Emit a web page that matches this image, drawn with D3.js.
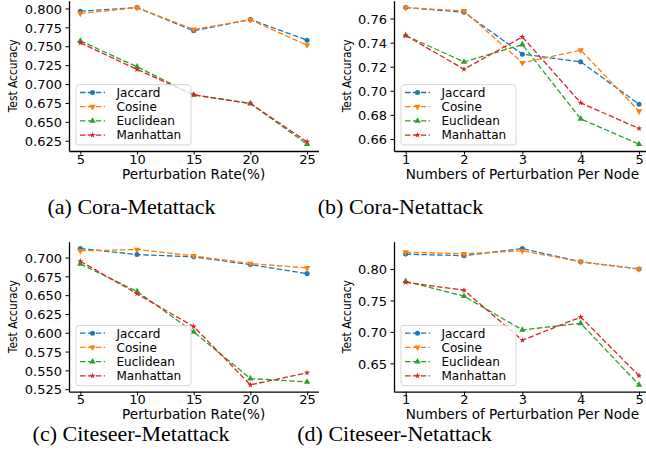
<!DOCTYPE html>
<html lang="en">
<head>
    <meta charset="UTF-8">
    <title>Similarity measures under attack</title>
    <script src="https://cdn.jsdelivr.net/npm/d3@7"></script>
    <style>
        body { margin: 0; background: #fff; }
        svg { display: block; }
        .tick text { font-family: "DejaVu Sans", sans-serif; font-size: 13px; fill: #000; }
        .axis path, .axis line { stroke: #000; }
        .axis path { stroke-width: 1.3; }
        .label { font-family: "DejaVu Sans", sans-serif; fill: #000; }
        .caption { font-family: "Liberation Serif", serif; font-size: 22px; fill: #000; }
        .legend text { font-family: "DejaVu Sans", sans-serif; font-size: 12px; fill: #000; }
    </style>
</head>
<body>
<div id="chart"></div>
<script>
    const w = 646
    const h = 463

    // x values
    const rateX = [5, 10, 15, 20, 25]
    const nodeX = [1, 2, 3, 4, 5]
    const methods = ["Jaccard", "Cosine", "Euclidean", "Manhattan"]

    // (a) Cora - Metattack
    const coraMetaJaccard   = [0.7964, 0.8012, 0.7704, 0.7855, 0.7580]
    const coraMetaCosine    = [0.7934, 0.8010, 0.7722, 0.7850, 0.7515]
    const coraMetaEuclidean = [0.7571, 0.7228, 0.6857, 0.6743, 0.6205]
    const coraMetaManhattan = [0.7545, 0.7193, 0.6857, 0.6743, 0.6236]

    // (b) Cora - Netattack
    const coraNetJaccard   = [0.7691, 0.7652, 0.7304, 0.7240, 0.6889]
    const coraNetCosine    = [0.7690, 0.7663, 0.7232, 0.7337, 0.6831]
    const coraNetEuclidean = [0.7459, 0.7240, 0.7384, 0.6767, 0.6557]
    const coraNetManhattan = [0.7459, 0.7179, 0.7447, 0.6900, 0.6687]

    // (c) Citeseer - Metattack
    const citeMetaJaccard   = [0.7120, 0.7040, 0.7009, 0.6906, 0.6786]
    const citeMetaCosine    = [0.7089, 0.7107, 0.7022, 0.6920, 0.6862]
    const citeMetaEuclidean = [0.6915, 0.6550, 0.6010, 0.5391, 0.5347]
    const citeMetaManhattan = [0.6951, 0.6519, 0.6082, 0.5307, 0.5467]

    // (d) Citeseer - Netattack
    const citeNetJaccard   = [0.8237, 0.8211, 0.8326, 0.8116, 0.8000]
    const citeNetCosine    = [0.8268, 0.8242, 0.8290, 0.8116, 0.8000]
    const citeNetEuclidean = [0.7805, 0.7568, 0.7032, 0.7137, 0.6158]
    const citeNetManhattan = [0.7789, 0.7663, 0.6868, 0.7237, 0.6305]

    // tick labels
    const yTicksCoraMeta = [0.625, 0.650, 0.675, 0.700, 0.725, 0.750, 0.775, 0.800]
    const yTicksCoraNet  = [0.66, 0.68, 0.70, 0.72, 0.74, 0.76]
    const yTicksCiteMeta = [0.525, 0.550, 0.575, 0.600, 0.625, 0.650, 0.675, 0.700]
    const yTicksCiteNet  = [0.65, 0.70, 0.75, 0.80]

    const captions = ["(a) Cora-Metattack", "(b) Cora-Netattack", "(c) Citeseer-Metattack", "(d) Citeseer-Netattack"]
    const xLabels = ["Perturbation Rate(%)", "Numbers of Perturbation Per Node"]

    const colors = ["#1f77b4", "#ff7f0e", "#2ca02c", "#d62728"]
    const markers = [
        {type: d3.symbolCircle, size: 20, rot: 0},
        {type: d3.symbolTriangle, size: 18, rot: 180},
        {type: d3.symbolTriangle, size: 18, rot: 0},
        {type: d3.symbolStar, size: 12, rot: 0}
    ]

    const panels = [
        {x: rateX, series: [coraMetaJaccard, coraMetaCosine, coraMetaEuclidean, coraMetaManhattan],
         yTicks: yTicksCoraMeta, fmt: ".3f", xl: xLabels[0], cap: captions[0],
         xr: [69, 318.4], yr: [151, 0.7], capX: 131.5, capY: 214},
        {x: nodeX, series: [coraNetJaccard, coraNetCosine, coraNetEuclidean, coraNetManhattan],
         yTicks: yTicksCoraNet, fmt: ".2f", xl: xLabels[1], cap: captions[1],
         xr: [394, 650.7], yr: [151, 0.7], capX: 400.5, capY: 214},
        {x: rateX, series: [citeMetaJaccard, citeMetaCosine, citeMetaEuclidean, citeMetaManhattan],
         yTicks: yTicksCiteMeta, fmt: ".3f", xl: xLabels[0], cap: captions[2],
         xr: [69, 318.4], yr: [391.7, 241.7], capX: 131, capY: 441},
        {x: nodeX, series: [citeNetJaccard, citeNetCosine, citeNetEuclidean, citeNetManhattan],
         yTicks: yTicksCiteNet, fmt: ".2f", xl: xLabels[1], cap: captions[3],
         xr: [394, 650.7], yr: [391.7, 241.7], capX: 394.5, capY: 441}
    ]

    const svg = d3.select("#chart").append("svg")
                  .attr("width", w)
                  .attr("height", h)

    // matplotlib-like 5% margins
    function padded(ext) {
        const p = (ext[1] - ext[0]) * 0.05
        return [ext[0] - p, ext[1] + p]
    }

    panels.forEach((p, pi) => {
        const xScale = d3.scaleLinear().domain(padded(d3.extent(p.x))).range(p.xr)
        const yScale = d3.scaleLinear()
                         .domain(padded(d3.extent(p.series.flat())))
                         .range(p.yr)

        const g = svg.append("g")

        // lines + markers
        p.series.forEach((vals, si) => {
            const pts = vals.map((v, i) => [p.x[i], v])
            const line = d3.line().x(d => xScale(d[0])).y(d => yScale(d[1]))
            g.append("path")
             .attr("d", line(pts))
             .attr("fill", "none")
             .attr("stroke", colors[si])
             .attr("stroke-width", 1.3)
             .attr("stroke-dasharray", "5.5,2.4")

            const m = markers[si]
            g.selectAll(null)
             .data(pts)
             .enter()
             .append("path")
             .attr("d", d3.symbol().type(m.type).size(m.size))
             .attr("transform", d => `translate(${xScale(d[0])},${yScale(d[1])}) rotate(${m.rot})`)
             .attr("fill", colors[si])
        })

        // axes
        const xAxis = d3.axisBottom(xScale).tickValues(p.x).tickFormat(d3.format("d"))
                        .tickSize(3.5).tickSizeOuter(0).tickPadding(0)
        g.append("g")
         .attr("class", "axis")
         .attr("transform", `translate(0, ${p.yr[0]})`)
         .call(xAxis)

        const yAxis = d3.axisLeft(yScale).tickValues(p.yTicks).tickFormat(d3.format(p.fmt))
                        .tickSize(3.5).tickSizeOuter(0).tickPadding(3.5)
        const ya = g.append("g")
         .attr("class", "axis")
         .attr("transform", `translate(${p.xr[0]}, 0)`)
         .call(yAxis)
        ya.selectAll(".tick text").attr("dy", "0.36em")

        // axis labels
        g.append("text")
         .attr("class", "label")
         .attr("x", (p.xr[0] + p.xr[1]) / 2)
         .attr("y", p.yr[0] + 27.5)
         .attr("text-anchor", "middle")
         .style("font-size", "13.6px")
         .text(p.xl)

        const yMid = (p.yr[0] + p.yr[1]) / 2
        const yLabX = pi % 2 === 0 ? p.xr[0] - 52 : p.xr[0] - 43
        g.append("text")
         .attr("class", "label")
         .attr("transform", `translate(${yLabX}, ${yMid}) rotate(-90)`)
         .attr("text-anchor", "middle")
         .style("font-size", "12px")
         .attr("textLength", 73)
         .attr("lengthAdjust", "spacingAndGlyphs")
         .attr("x", 0)
         .attr("y", 0)
         .text("Test Accuracy")

        // legend
        const lx = p.xr[0] + 7
        const rowH = 14.2
        const lh = rowH * methods.length + 3.5
        const ly = p.yr[0] - 6 - lh
        const leg = g.append("g").attr("class", "legend")
        leg.append("rect")
           .attr("x", lx)
           .attr("y", ly)
           .attr("width", 115)
           .attr("height", lh)
           .attr("rx", 3)
           .attr("fill", "#fff")
           .attr("fill-opacity", 0.8)
           .attr("stroke", "#d5d5d5")
           .attr("stroke-width", 1)

        methods.forEach((name, si) => {
            const cy = ly + 7.8 + si * rowH
            leg.append("line")
               .attr("x1", lx + 4).attr("x2", lx + 29)
               .attr("y1", cy).attr("y2", cy)
               .attr("stroke", colors[si])
               .attr("stroke-width", 1.3)
               .attr("stroke-dasharray", "5.5,2.4")
            const m = markers[si]
            leg.append("path")
               .attr("d", d3.symbol().type(m.type).size(m.size))
               .attr("transform", `translate(${lx + 16.5},${cy}) rotate(${m.rot})`)
               .attr("fill", colors[si])
            leg.append("text")
               .attr("x", lx + 40.5)
               .attr("y", cy)
               .attr("dy", "0.36em")
               .text(name)
        })

        // caption
        svg.append("text")
           .attr("class", "caption")
           .attr("x", p.capX)
           .attr("y", p.capY)
           .attr("text-anchor", "middle")
           .text(p.cap)
    })
</script>
</body>
</html>
